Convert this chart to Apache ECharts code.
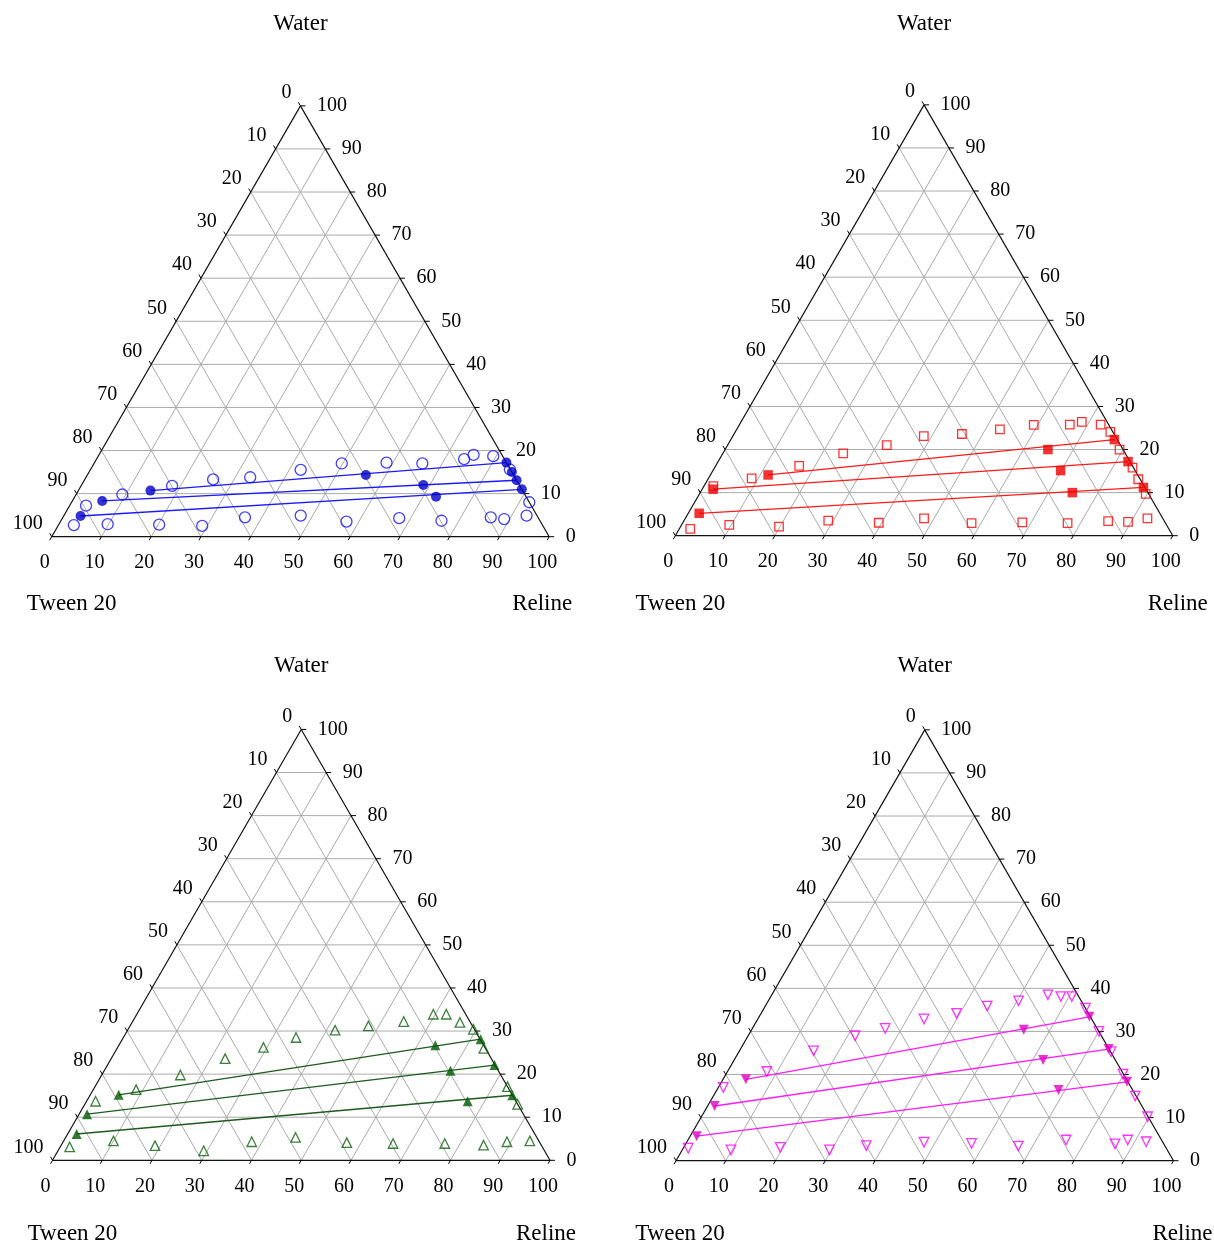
<!DOCTYPE html>
<html><head><meta charset="utf-8">
<script src="https://cdn.jsdelivr.net/npm/echarts@6/dist/echarts.min.js"></script>
<style>html,body{margin:0;padding:0;background:#fff}#c{width:1214px;height:1243px}</style>
</head><body><div id="c"></div>
<script>
// ---- tick labels / grid levels (percent) ----
const TICKS = [0, 10, 20, 30, 40, 50, 60, 70, 80, 90, 100];
const GRID_LEVELS = [10, 20, 30, 40, 50, 60, 70, 80, 90];
const TITLE_TOP = 'Water', TITLE_LEFT = 'Tween 20', TITLE_RIGHT = 'Reline';

// ---- data: [Water %, Reline %] (Tween 20 = 100 - Water - Reline) ----
// Panel 1 (blue circles)
const p1Binodal = [[2.7,3.1],[7.2,3.3],[2.9,9.8],[9.8,9.3],[2.8,20.2],[11.8,18.3],[2.5,29.0],[13.3,25.8],[4.5,36.6],[13.8,33.0],[4.9,47.6],[15.5,42.3],[17.0,49.8],[3.5,57.5],[17.2,58.7],[4.3,67.7],[17.0,66.0],[3.7,76.5],[18.0,73.9],[19.0,75.3],[18.7,79.4],[4.5,86.0],[4.1,88.9],[15.6,84.3],[4.9,93.0],[8.0,92.0]];
const p1TieLeft  = [[10.7,14.5],[8.3,6.0],[4.8,3.4]];
const p1TieFeed  = [[14.3,56.0],[12.0,68.7],[9.3,72.6]];
const p1TieRight = [[17.2,82.8],[13.1,86.9],[11.0,89.0]];
const p1Extra    = [[15.0,85.0]];
// Panel 2 (red squares)
const p2Binodal = [[1.6,2.2],[11.5,1.9],[2.5,9.6],[13.3,8.7],[2.1,19.8],[16.2,16.8],[3.5,29.0],[19.1,24.2],[3.0,39.4],[21.0,32.0],[23.1,38.4],[4.0,48.0],[23.6,45.8],[2.9,58.1],[24.7,52.9],[3.1,68.2],[25.7,59.2],[2.9,77.4],[25.8,66.4],[26.4,68.5],[25.8,72.6],[3.4,85.3],[24.1,75.4],[3.2,89.4],[20.0,79.3],[15.8,84.0],[4.0,92.9],[13.1,86.5],[9.7,89.7]];
const p2TieLeft  = [[14.1,11.6],[10.8,2.2],[5.2,2.2]];
const p2TieFeed  = [[20.0,64.9],[15.1,69.9],[10.0,74.8]];
const p2TieRight = [[22.3,77.1],[17.2,82.4],[11.2,88.5]];
const p2Extra    = [];
// Panel 3 (green triangles)
const p3Binodal = [[3.1,1.9],[4.5,10.0],[13.7,1.8],[16.4,8.6],[3.4,18.9],[19.8,15.8],[2.2,29.3],[23.6,22.9],[4.3,37.9],[26.2,29.3],[5.3,46.2],[28.5,34.7],[30.2,41.7],[4.1,57.1],[31.2,47.9],[3.9,66.5],[32.2,54.5],[33.9,59.6],[33.9,62.2],[3.9,76.9],[32.0,65.9],[30.4,69.4],[3.5,84.9],[26.0,73.7],[4.3,89.2],[17.1,82.9],[13.0,87.0],[4.5,93.7]];
const p3TieLeft  = [[15.2,5.7],[10.7,1.6],[6.1,1.8]];
const p3TieFeed  = [[26.7,63.6],[20.8,69.6],[13.7,76.6]];
const p3TieRight = [[28.1,72.0],[22.1,77.8],[15.1,84.9]];
const p3Extra    = [];
// Panel 4 (magenta inverted triangles)
const p4Binodal = [[2.9,1.0],[17.0,1.0],[2.5,9.8],[20.7,7.9],[3.1,19.4],[25.5,14.9],[2.5,29.6],[29.0,21.5],[3.5,36.5],[30.7,26.7],[32.9,33.4],[4.3,47.7],[34.2,39.3],[4.0,57.4],[35.9,44.6],[37.1,50.3],[3.4,67.1],[38.5,55.5],[38.1,58.3],[38.1,60.5],[4.8,76.0],[35.4,64.6],[30.0,70.0],[25.3,74.8],[3.9,86.3],[4.8,88.4],[20.1,79.8],[15.0,84.8],[4.4,92.3],[10.2,89.7]];
const p4TieLeft  = [[18.9,4.6],[12.7,1.4],[5.7,1.3]];
const p4TieFeed  = [[30.4,54.7],[23.4,62.1],[16.4,68.7]];
const p4TieRight = [[33.4,66.4],[25.9,74.0],[18.3,81.5]];
const p4Extra    = [];

// ---- layout / style ----
const SIDE = 497.5, HGT = SIDE * Math.sqrt(3) / 2, YMAX = 50 * Math.sqrt(3);
const FONT = '"Liberation Serif", "Times New Roman", serif';
const PANELS = [
  {x0: 51.7, base: 536.7, bin: p1Binodal, tl: p1TieLeft, tf: p1TieFeed, tr: p1TieRight, ex: p1Extra,
   sym: 'circle', rot: 0, size: 11, fsize: 10, open: '#1010ff', fill: '#0000c8', line: '#1a1aff',
   tTop: -82, tLeft: [20, 67], tRight: [-7, 67]},
  {x0: 675.3, base: 535.7, bin: p2Binodal, tl: p2TieLeft, tf: p2TieFeed, tr: p2TieRight, ex: p2Extra,
   sym: 'rect', rot: 0, size: 8.5, fsize: 9.5, open: '#ff0000', fill: '#ee0000', line: '#ff1a1a',
   tTop: -81, tLeft: [5, 68], tRight: [5, 68]},
  {x0: 52.5, base: 1160.3, bin: p3Binodal, tl: p3TieLeft, tf: p3TieFeed, tr: p3TieRight, ex: p3Extra,
   sym: 'triangle', rot: 0, size: 9.5, fsize: 10, open: '#0a600a', fill: '#005a00', line: '#1e5a1e',
   tTop: -63, tLeft: [20, 74], tRight: [-4, 74]},
  {x0: 676, base: 1160.7, bin: p4Binodal, tl: p4TieLeft, tf: p4TieFeed, tr: p4TieRight, ex: p4Extra,
   sym: 'triangle', rot: 180, size: 9.5, fsize: 10, open: '#ff00ff', fill: '#e000c0', line: '#ff1aff',
   tTop: -64, tLeft: [4, 73], tRight: [9, 73]}
];

const SQ = Math.sqrt(3) / 2;
function xy(p) { return [p[1] + p[0] / 2, p[0] * SQ]; } // [water, reline] -> cartesian

function segRenderer(color, width) {
  return function (params, api) {
    const a = api.coord([api.value(0), api.value(1)]);
    const b = api.coord([api.value(2), api.value(3)]);
    return {type: 'line', shape: {x1: a[0], y1: a[1], x2: b[0], y2: b[1]},
            style: {stroke: color, lineWidth: width}, silent: true};
  };
}
function tickRenderer(params, api) {
  const p = api.coord([api.value(0), api.value(1)]);
  const kind = api.value(2), lab = String(api.value(3));
  let dx, dy, tx, ty, align;
  if (kind === 0) { dx = -2; dy = 3.5; tx = p[0] - 7; ty = p[1] + 26; align = 'center'; }
  else if (kind === 1) { dx = -2; dy = -3.5; tx = p[0] - 9; ty = p[1] - 13; align = 'right'; }
  else { dx = 5; dy = 0; tx = p[0] + 16.5; ty = p[1]; align = 'left'; }
  return {type: 'group', children: [
    {type: 'line', shape: {x1: p[0], y1: p[1], x2: p[0] + dx, y2: p[1] + dy}, style: {stroke: '#000', lineWidth: 1}},
    {type: 'text', x: tx, y: ty, style: {text: lab, font: '20px ' + FONT, fill: '#000', align: align, verticalAlign: 'middle'}}
  ]};
}

const grids = [], xAxes = [], yAxes = [], series = [], graphics = [];
PANELS.forEach((P, i) => {
  grids.push({left: P.x0, top: P.base - HGT, width: SIDE, height: HGT, containLabel: false, outerBoundsMode: 'none'});
  xAxes.push({type: 'value', gridIndex: i, min: 0, max: 100, show: false});
  yAxes.push({type: 'value', gridIndex: i, min: 0, max: YMAX, show: false});
  // grid lines
  const gl = [];
  GRID_LEVELS.forEach(k => {
    gl.push(xy([k, 0]).concat(xy([k, 100 - k])));        // const water
    gl.push(xy([0, k]).concat(xy([100 - k, k])));        // const reline
    gl.push(xy([0, 100 - k]).concat(xy([100 - k, 0])));  // const tween
  });
  series.push({type: 'custom', xAxisIndex: i, yAxisIndex: i, renderItem: segRenderer('#ababab', 1), data: gl, z: 1});
  // border
  const border = [xy([0, 0]).concat(xy([0, 100])), xy([0, 100]).concat(xy([100, 0])), xy([100, 0]).concat(xy([0, 0]))];
  series.push({type: 'custom', xAxisIndex: i, yAxisIndex: i, renderItem: segRenderer('#111', 1.2), data: border, z: 2});
  // ticks + labels
  const tk = [];
  TICKS.forEach(k => {
    tk.push(xy([0, k]).concat([0, k]));          // bottom: Reline
    tk.push(xy([100 - k, 0]).concat([1, k]));    // left: Tween 20
    tk.push(xy([k, 100 - k]).concat([2, k]));    // right: Water
  });
  series.push({type: 'custom', xAxisIndex: i, yAxisIndex: i, renderItem: tickRenderer, data: tk, z: 3});
  // tie lines
  const tie = P.tl.map((l, j) => xy(l).concat(xy(P.tr[j])));
  series.push({type: 'custom', xAxisIndex: i, yAxisIndex: i, renderItem: segRenderer(P.line, 1.3), data: tie, z: 4});
  // binodal points (open)
  series.push({type: 'scatter', xAxisIndex: i, yAxisIndex: i, data: P.bin.map(xy), symbol: P.sym, symbolRotate: P.rot,
    symbolSize: P.size, itemStyle: {color: 'rgba(255,255,255,0)', borderColor: P.open, borderWidth: 1.3}, z: 5, silent: true});
  // tie-line points (filled)
  const filled = P.tl.concat(P.tf, P.tr, P.ex).map(xy);
  series.push({type: 'scatter', xAxisIndex: i, yAxisIndex: i, data: filled, symbol: P.sym, symbolRotate: P.rot,
    symbolSize: P.fsize, itemStyle: {color: P.fill, borderColor: P.fill, borderWidth: 0}, z: 6, silent: true});
  // axis titles
  const apexX = P.x0 + SIDE / 2, apexY = P.base - HGT;
  const tfont = '23px ' + FONT;
  graphics.push({type: 'text', x: apexX, y: apexY + P.tTop, style: {text: TITLE_TOP, font: tfont, fill: '#000', align: 'center', verticalAlign: 'middle'}});
  graphics.push({type: 'text', x: P.x0 + P.tLeft[0], y: P.base + P.tLeft[1], style: {text: TITLE_LEFT, font: tfont, fill: '#000', align: 'center', verticalAlign: 'middle'}});
  graphics.push({type: 'text', x: P.x0 + SIDE + P.tRight[0], y: P.base + P.tRight[1], style: {text: TITLE_RIGHT, font: tfont, fill: '#000', align: 'center', verticalAlign: 'middle'}});
});

const chart = echarts.init(document.getElementById('c'), null, {renderer: 'canvas'});
chart.setOption({animation: false, backgroundColor: '#fff', grid: grids, xAxis: xAxes, yAxis: yAxes, series: series, graphic: graphics});
</script></body></html>
